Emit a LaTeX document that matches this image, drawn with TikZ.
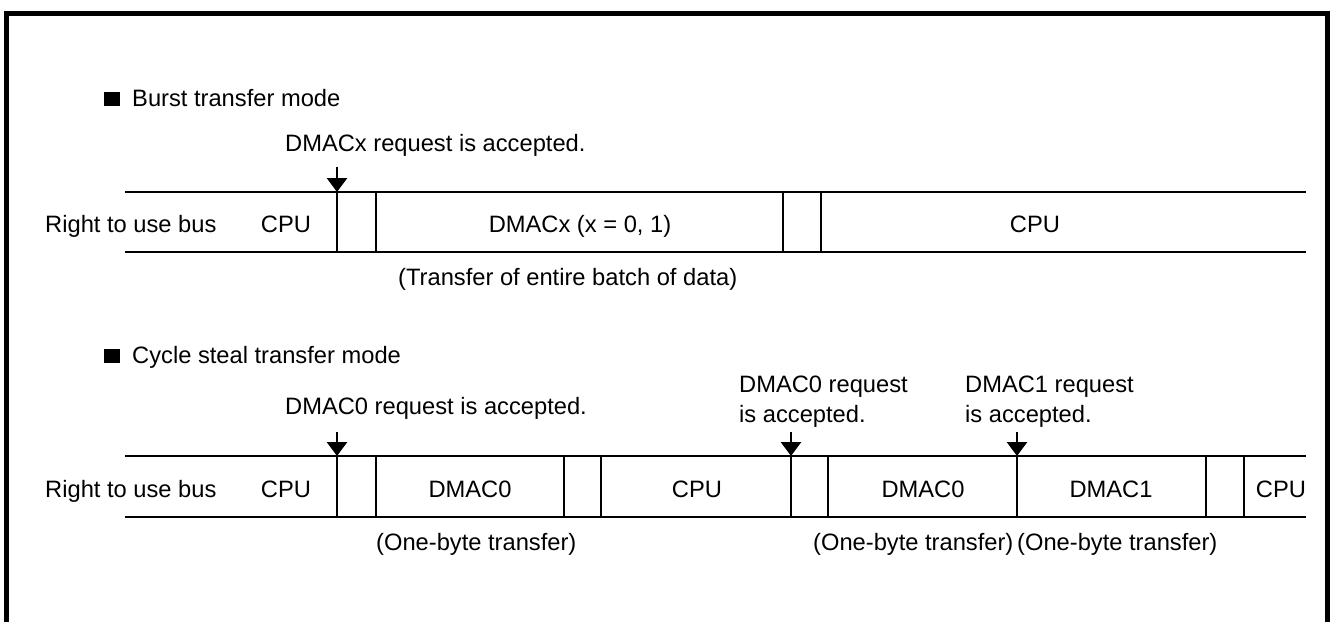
\documentclass[tikz,border=0pt]{standalone}
\usepackage{fontspec}
\setmainfont{Liberation Sans}
\usetikzlibrary{arrows.meta}

\tikzset{
  lbl/.style={inner sep=0pt,anchor=base west,font=\fontsize{23.7}{28}\selectfont},
  cell/.style={inner sep=0pt,anchor=base,font=\fontsize{23.7}{28}\selectfont},
  bus/.style={line width=2.8pt},
  req/.style={line width=2.8pt,-{Triangle[width=20pt,length=14pt]}}
}

\begin{document}
\begin{tikzpicture}[x=1pt,y=-1pt]
\useasboundingbox (0,0) rectangle (1330,621);
% ---------- frame ----------
\draw[line width=5pt] (6.5,640) -- (6.5,13.5) -- (1327.5,13.5) -- (1327.5,640);
% ---------- Burst transfer mode ----------
\begin{scope}
\fill (104,92) rectangle (120,106);
\node[lbl] (burstHead) at (132,106) {Burst transfer mode};
\node[lbl] (burstReqTxt) at (285,151) {DMACx request is accepted.};
% bus lines
\coordinate (burstT0) at (125,192); \coordinate (burstT1) at (1306,192);
\coordinate (burstB0) at (125,252); \coordinate (burstB1) at (1306,252);
\draw[bus] (burstT0) -- (burstT1);
\draw[bus] (burstB0) -- (burstB1);
\foreach \x in {337,376,783,821}
  \draw[bus] (\x,192) -- (\x,252);
% request arrow
\coordinate (burstReq) at (337,167);
\coordinate (burstReqEnd) at (337,192);
\draw[req] (burstReq) -- (burstReqEnd);
% labels
\node[lbl] (burstBus) at (45,232) {Right to use bus};
\node[cell] (burstCpuA) at (286,232) {CPU};
\node[cell] (burstDmac) at (580,232) {DMACx (x = 0, 1)};
\node[cell] (burstCpuB) at (1035,232) {CPU};
\node[lbl] (burstNote) at (398,285) {(Transfer of entire batch of data)};
\end{scope}
% ---------- Cycle steal transfer mode ----------
\begin{scope}
\fill (104,349) rectangle (120,363);
\node[lbl] (cycHead) at (132,363) {Cycle steal transfer mode};
\node[lbl] (cycReqTxtA) at (285,414) {DMAC0 request is accepted.};
\node[lbl] (cycReqTxtB) at (739,392) {DMAC0 request};
\node[lbl] (cycReqTxtBb) at (739,422) {is accepted.};
\node[lbl] (cycReqTxtC) at (965,392) {DMAC1 request};
\node[lbl] (cycReqTxtCc) at (965,422) {is accepted.};
% bus lines
\coordinate (cycT0) at (125,456); \coordinate (cycT1) at (1306,456);
\coordinate (cycB0) at (125,517); \coordinate (cycB1) at (1306,517);
\draw[bus] (cycT0) -- (cycT1);
\draw[bus] (cycB0) -- (cycB1);
\foreach \x in {337,376,564,601,791,828,1017,1206,1244}
  \draw[bus] (\x,456) -- (\x,517);
% request arrows
\foreach \x/\n in {337/A,791/B,1017/C}{
  \coordinate (cycReq\n) at (\x,432);
  \coordinate (cycReqEnd\n) at (\x,456);
  \draw[req] (cycReq\n) -- (cycReqEnd\n);
}
% labels
\node[lbl] (cycBus) at (45,497) {Right to use bus};
\node[cell] (cycCpuA) at (286,497) {CPU};
\node[cell] (cycDmacA) at (470,497) {DMAC0};
\node[cell] (cycCpuB) at (697,497) {CPU};
\node[cell] (cycDmacB) at (923,497) {DMAC0};
\node[cell] (cycDmacC) at (1111,497) {DMAC1};
\node[cell] (cycCpuC) at (1281,497) {CPU};
\node[lbl] (cycNoteA) at (376,550) {(One-byte transfer)};
\node[lbl] (cycNoteB) at (813,550) {(One-byte transfer)};
\node[lbl] (cycNoteC) at (1017,550) {(One-byte transfer)};
\end{scope}
\end{tikzpicture}
\end{document}
